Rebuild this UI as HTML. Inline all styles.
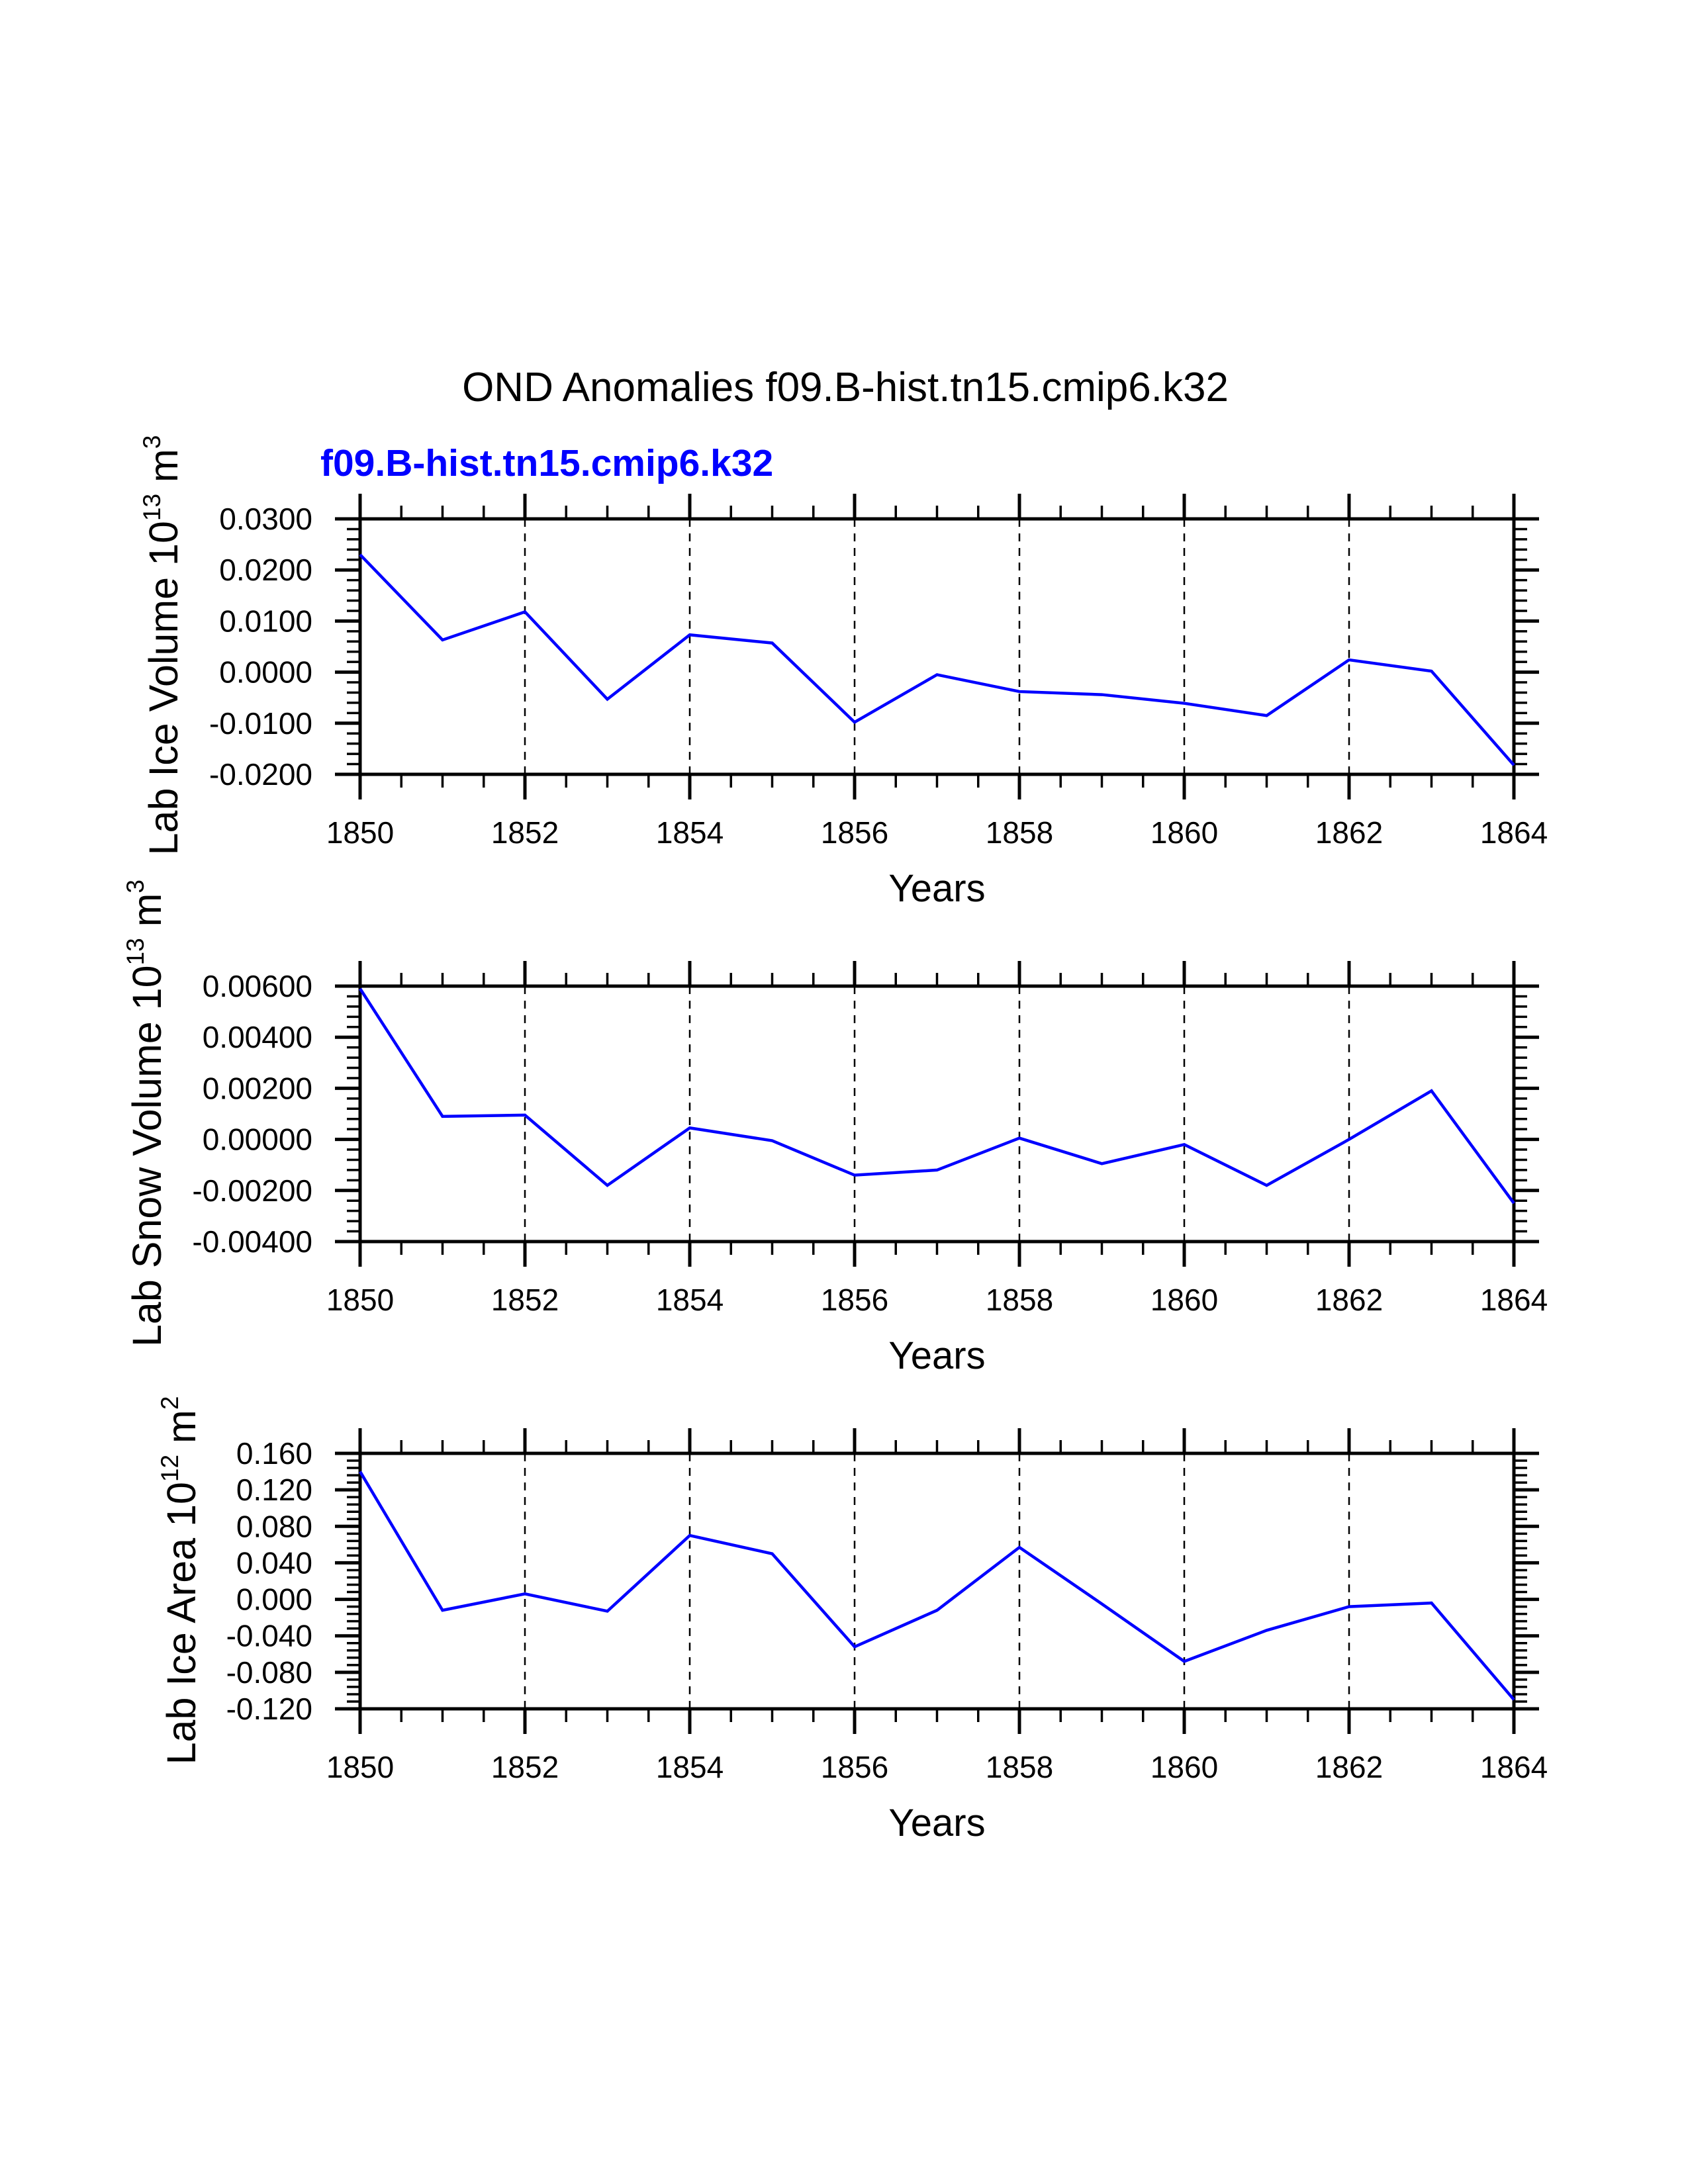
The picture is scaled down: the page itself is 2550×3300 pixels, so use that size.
<!DOCTYPE html>
<html><head><meta charset="utf-8"><style>
html,body{margin:0;padding:0;background:#fff}
svg{display:block}
text{font-family:"Liberation Sans",sans-serif}
</style></head><body>
<svg id="fig" width="2550" height="3300" viewBox="0 0 2550 3300" xmlns="http://www.w3.org/2000/svg">
<rect width="2550" height="3300" fill="#fff"/>
<text x="1277" y="606" font-size="62" text-anchor="middle">OND Anomalies f09.B-hist.tn15.cmip6.k32</text>
<text x="484" y="719" font-size="57" font-weight="bold" fill="#0000ff">f09.B-hist.tn15.cmip6.k32</text>
</svg>
<script>
const years=[1850,1851,1852,1853,1854,1855,1856,1857,1858,1859,1860,1861,1862,1863,1864];
const iceVolume=[0.0230,0.0063,0.0118,-0.0053,0.0073,0.0057,-0.0098,-0.0005,-0.0038,-0.0044,-0.0061,-0.0085,0.0024,0.0002,-0.0182];
const snowVolume=[0.0059,0.0009,0.00095,-0.0018,0.00045,-0.00005,-0.0014,-0.0012,0.00005,-0.00095,-0.0002,-0.0018,0.0,0.0019,-0.0025];
const iceArea=[0.140,-0.012,0.006,-0.013,0.070,0.050,-0.052,-0.012,0.057,-0.005,-0.068,-0.034,-0.008,-0.004,-0.110];
const xTicks=[1850,1852,1854,1856,1858,1860,1862,1864];
const iceVolTicks=[-0.02,-0.01,0,0.01,0.02,0.03];
const iceVolLabels=["-0.0200","-0.0100","0.0000","0.0100","0.0200","0.0300"];
const snowTicks=[-0.004,-0.002,0,0.002,0.004,0.006];
const snowLabels=["-0.00400","-0.00200","0.00000","0.00200","0.00400","0.00600"];
const areaTicks=[-0.12,-0.08,-0.04,0,0.04,0.08,0.12,0.16];
const areaLabels=["-0.120","-0.080","-0.040","0.000","0.040","0.080","0.120","0.160"];

const NS="http://www.w3.org/2000/svg";
const svg=document.getElementById('fig');
function mk(tag,attrs,parent){const e=document.createElementNS(NS,tag);for(const k in attrs)e.setAttribute(k,attrs[k]);(parent||svg).appendChild(e);return e;}
const X0=544,X1=2287;
function panel(name,top,bottom,vals,ticks,labels,ylabelMain,exp,pw,labX,labY){
  const g=mk('g',{});
  
  
  const ymin=ticks[0],ymax=ticks[ticks.length-1];
  const xs=v=>X0+(v-1850)/(1864-1850)*(X1-X0);
  const ys=v=>bottom-(v-ymin)/(ymax-ymin)*(bottom-top);
  xTicks.forEach(t=>{if(t>1850&&t<1864){const l=mk('line',{x1:xs(t),x2:xs(t),y1:top,y2:bottom,stroke:'#000','stroke-width':2.5,'stroke-dasharray':'12,10'},g);
    
    }});
  for(let t=1850;t<=1864;t+=0.5){const major=(t%2===0);const L=major?38:20;
    mk('line',{x1:xs(t),x2:xs(t),y1:top-L,y2:top,stroke:'#000','stroke-width':major?5:3.5},g);
    mk('line',{x1:xs(t),x2:xs(t),y1:bottom,y2:bottom+L,stroke:'#000','stroke-width':major?5:3.5},g);}
  xTicks.forEach(t=>{const tx=mk('text',{x:xs(t),y:bottom+104,'font-size':46,'text-anchor':'middle'},g);tx.textContent=t;
    
    });
  const step=(ticks[1]-ticks[0])/5;
  for(let i=0;i<=(ticks.length-1)*5;i++){const v=ymin+i*step;const major=(i%5===0);const L=major?38:20;
    mk('line',{x1:X0-L,x2:X0,y1:ys(v),y2:ys(v),stroke:'#000','stroke-width':major?5:3.5},g);
    mk('line',{x1:X1,x2:X1+L,y1:ys(v),y2:ys(v),stroke:'#000','stroke-width':major?5:3.5},g);}
  ticks.forEach((v,i)=>{const tx=mk('text',{x:X0-72,y:ys(v)+16,'font-size':46,'text-anchor':'end'},g);tx.textContent=labels[i];
    
    });
  const fr=mk('rect',{x:X0,y:top,width:X1-X0,height:bottom-top,fill:'none',stroke:'#000','stroke-width':5},g);
  
  
  const pts=years.map((y,i)=>xs(y)+','+ys(vals[i])).join(' ');
  const pl=mk('polyline',{points:pts,fill:'none',stroke:'#0000ff','stroke-width':4.5,'stroke-linejoin':'miter'},g);
  
  
  const xt=mk('text',{x:(X0+X1)/2,y:bottom+192,'font-size':58,'text-anchor':'middle'},g);xt.textContent='Years';
  
  
  const yt=mk('text',{x:0,y:0,'font-size':61,'text-anchor':'middle',transform:`translate(${labX},${labY}) rotate(-90)`},g);
  
  
  const a=mk('tspan',{},yt);a.textContent=ylabelMain+' 10';
  const b=mk('tspan',{dy:-26,'font-size':37},yt);b.textContent=exp;
  const c=mk('tspan',{dy:26},yt);c.textContent=' m';
  const d=mk('tspan',{dy:-26,'font-size':37},yt);d.textContent=pw;
}
panel('ice-volume-panel',784,1170,iceVolume,iceVolTicks,iceVolLabels,'Lab Ice Volume','13','3',268,975);
panel('snow-volume-panel',1490,1876,snowVolume,snowTicks,snowLabels,'Lab Snow Volume','13','3',243,1682);
panel('ice-area-panel',2196,2582,iceArea,areaTicks,areaLabels,'Lab Ice Area','12','2',295,2388);
</script>
</body></html>
